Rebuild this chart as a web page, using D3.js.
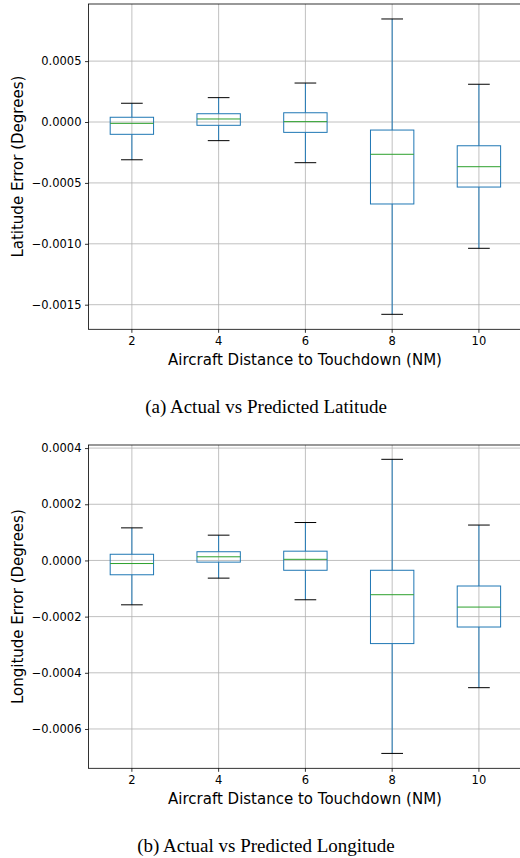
<!DOCTYPE html>
<html>
<head>
<meta charset="utf-8">
<script src="https://cdn.jsdelivr.net/npm/d3@7"></script>
<style>
  body { margin: 0; background: #fff; }
  svg { display: block; }
  text { font-family: "DejaVu Sans", sans-serif; }
</style>
</head>
<body>
<div id="chart"></div>
<script>
const categories = [2, 4, 6, 8, 10];

// latitude error box stats (degrees)
const latLow  = [-0.000310, -0.000153, -0.000334, -0.001579, -0.001037];
const latQ1   = [-0.000101, -0.000027, -0.000085, -0.000673, -0.000534];
const latMed  = [-0.000011,  0.000025,  0.000003, -0.000265, -0.000367];
const latQ3   = [ 0.000039,  0.000068,  0.000076, -0.000066, -0.000195];
const latHigh = [ 0.000154,  0.000200,  0.000320,  0.000846,  0.000310];
const latTicks = [0.0005, 0, -0.0005, -0.0010, -0.0015];

// longitude error box stats (degrees)
const lonLow  = [-0.000158, -0.000063, -0.000140, -0.000687, -0.000453];
const lonQ1   = [-0.000051, -0.000006, -0.000035, -0.000296, -0.000237];
const lonMed  = [-0.000011,  0.000013,  0.000004, -0.000122, -0.000166];
const lonQ3   = [ 0.000022,  0.000031,  0.000033, -0.000035, -0.000091];
const lonHigh = [ 0.000116,  0.000090,  0.000135,  0.000360,  0.000126];
const lonTicks = [0.0004, 0.0002, 0, -0.0002, -0.0004, -0.0006];

const width = 520;
const height = 858;
const blue = '#1f77b4';
const green = '#2ca02c';
const grid = '#b0b0b0';

const svg = d3.select('#chart').append('svg')
  .attr('width', width)
  .attr('height', height);

function drawPanel(opts) {
  const { top, bottom, domain, ticks, low, q1, med, q3, high, ylabel, caption } = opts;
  const left = 88.5;
  const right = 522.3;

  const x = d3.scaleBand()
    .domain(categories)
    .range([left, right]);
  const bw = x.bandwidth();

  const y = d3.scaleLinear()
    .domain(domain)
    .range([bottom, top]);

  const g = svg.append('g');

  // grid
  g.selectAll('.hgrid')
    .data(ticks)
    .join('line')
    .attr('x1', left).attr('x2', right)
    .attr('y1', d => y(d)).attr('y2', d => y(d))
    .attr('stroke', grid).attr('stroke-width', 0.8);

  g.selectAll('.vgrid')
    .data(categories)
    .join('line')
    .attr('x1', d => x(d) + bw / 2).attr('x2', d => x(d) + bw / 2)
    .attr('y1', top).attr('y2', bottom)
    .attr('stroke', grid).attr('stroke-width', 0.8);

  // boxes
  const boxes = categories.map((c, i) => ({
    c, low: low[i], q1: q1[i], med: med[i], q3: q3[i], high: high[i]
  }));

  const b = g.selectAll('.box')
    .data(boxes)
    .join('g');

  b.append('line')
    .attr('x1', d => x(d.c) + bw / 2).attr('x2', d => x(d.c) + bw / 2)
    .attr('y1', d => y(d.high)).attr('y2', d => y(d.q3))
    .attr('stroke', blue).attr('stroke-width', 1);
  b.append('line')
    .attr('x1', d => x(d.c) + bw / 2).attr('x2', d => x(d.c) + bw / 2)
    .attr('y1', d => y(d.q1)).attr('y2', d => y(d.low))
    .attr('stroke', blue).attr('stroke-width', 1);

  b.selectAll('.cap')
    .data(d => [{ c: d.c, v: d.high }, { c: d.c, v: d.low }])
    .join('line')
    .attr('x1', d => x(d.c) + bw * 0.375).attr('x2', d => x(d.c) + bw * 0.625)
    .attr('y1', d => y(d.v)).attr('y2', d => y(d.v))
    .attr('stroke', '#000').attr('stroke-width', 1);

  b.append('rect')
    .attr('x', d => x(d.c) + bw * 0.25)
    .attr('width', bw * 0.5)
    .attr('y', d => y(d.q3))
    .attr('height', d => y(d.q1) - y(d.q3))
    .attr('fill', 'none')
    .attr('stroke', blue).attr('stroke-width', 1);

  b.append('line')
    .attr('x1', d => x(d.c) + bw * 0.25).attr('x2', d => x(d.c) + bw * 0.75)
    .attr('y1', d => y(d.med)).attr('y2', d => y(d.med))
    .attr('stroke', green).attr('stroke-width', 1);

  // frame
  g.append('rect')
    .attr('x', left).attr('y', top)
    .attr('width', right - left).attr('height', bottom - top)
    .attr('fill', 'none')
    .attr('stroke', '#000').attr('stroke-width', 0.8);

  // axes
  const yAxis = g.append('g')
    .attr('transform', `translate(${left},0)`)
    .call(d3.axisLeft(y).tickValues(ticks).tickFormat(d3.format('.4f'))
      .tickSize(3.5).tickPadding(3.5));
  const xAxis = g.append('g')
    .attr('transform', `translate(0,${bottom})`)
    .call(d3.axisBottom(x).tickSize(3.5).tickPadding(4));

  [yAxis, xAxis].forEach(a => {
    a.select('.domain').remove();
    a.selectAll('.tick line').attr('stroke', '#000').attr('stroke-width', 0.8);
    a.selectAll('.tick text')
      .attr('fill', '#000')
      .style('font-family', '"DejaVu Sans", sans-serif')
      .style('font-size', '11.5px');
  });

  g.append('text')
    .attr('transform', `translate(18,${(top + bottom) / 2}) rotate(-90)`)
    .attr('text-anchor', 'middle')
    .attr('dominant-baseline', 'central')
    .style('font-size', '15px')
    .text(ylabel);

  g.append('text')
    .attr('x', 305)
    .attr('y', bottom + 31)
    .attr('text-anchor', 'middle')
    .attr('dominant-baseline', 'central')
    .style('font-size', '15px')
    .text('Aircraft Distance to Touchdown (NM)');

  g.append('text')
    .attr('x', 266)
    .attr('y', bottom + 77)
    .attr('text-anchor', 'middle')
    .attr('dominant-baseline', 'central')
    .style('font-family', '"Liberation Serif", "Times New Roman", serif')
    .style('font-size', '19px')
    .text(caption);
}

drawPanel({
  top: 4, bottom: 329.3,
  domain: [-0.001702, 0.000969],
  ticks: latTicks,
  low: latLow, q1: latQ1, med: latMed, q3: latQ3, high: latHigh,
  ylabel: 'Latitude Error (Degrees)',
  caption: '(a) Actual vs Predicted Latitude'
});

drawPanel({
  top: 445, bottom: 768.3,
  domain: [-0.00074, 0.000411],
  ticks: lonTicks,
  low: lonLow, q1: lonQ1, med: lonMed, q3: lonQ3, high: lonHigh,
  ylabel: 'Longitude Error (Degrees)',
  caption: '(b) Actual vs Predicted Longitude'
});
</script>
</body>
</html>
